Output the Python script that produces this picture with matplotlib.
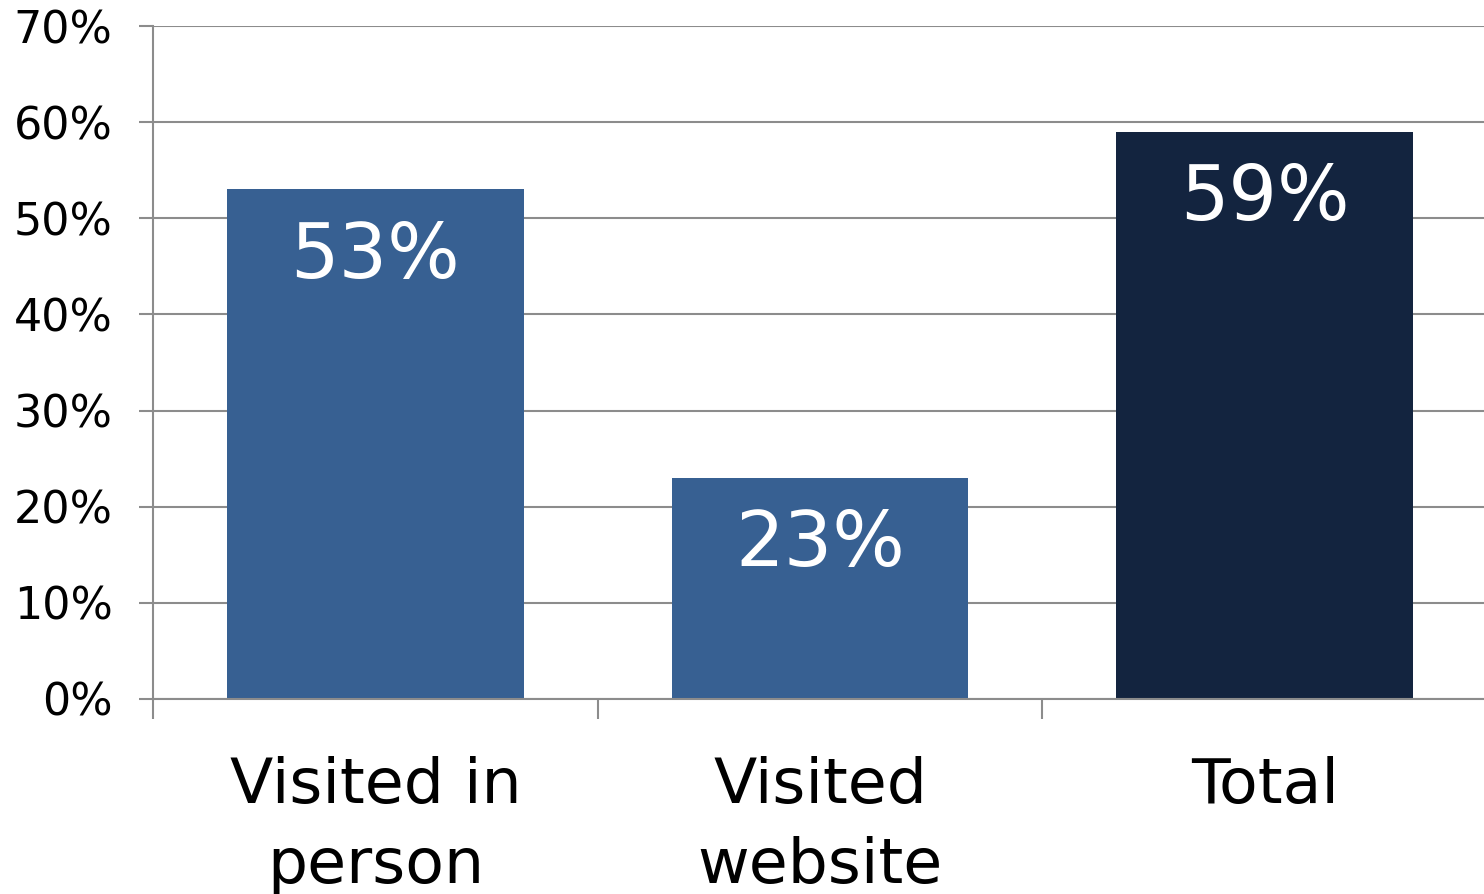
import matplotlib
matplotlib.use("Agg")
import matplotlib.pyplot as plt
from matplotlib.ticker import FixedLocator

# Дані
categories = ["Visited in\nperson", "Visited\nwebsite", "Total"]
values = [53, 23, 59]
value_labels = ["53%", "23%", "59%"]
y_ticks = [0, 10, 20, 30, 40, 50, 60, 70]
y_tick_labels = ["0%", "10%", "20%", "30%", "40%", "50%", "60%", "70%"]

bar_colors = ["#376092", "#376092", "#13243f"]
grid_color = "#8c8c8c"

plt.rcParams["font.family"] = ["DejaVu Sans"]

fig = plt.figure(figsize=(14.84, 8.94), dpi=100)
ax = fig.add_axes([153 / 1484, 195 / 894, 1334 / 1484, 673 / 894])

x = list(range(len(categories)))
bars = ax.bar(x, values, width=0.667, color=bar_colors, zorder=2)

for xi, v, lab in zip(x, values, value_labels):
    ax.annotate(lab, (xi, v), xytext=(0, -63.5), textcoords="offset points",
                ha="center", va="baseline", color="white", fontsize=55, zorder=3)

ax.set_xlim(-0.5, 2.5)
ax.set_ylim(0, 70)

ax.set_yticks(y_ticks)
ax.set_yticklabels(y_tick_labels)
ax.yaxis.grid(True, color=grid_color, linewidth=1.5, zorder=1)
ax.tick_params(axis="y", length=10, width=1.5, color=grid_color, pad=19,
               labelsize=32)

ax.set_xticks(x)
ax.set_xticklabels(categories, linespacing=1.42)
ax.xaxis.set_minor_locator(FixedLocator([-0.5, 0.5, 1.5, 2.5]))
ax.tick_params(axis="x", which="major", length=0, pad=41, labelsize=45.5)
ax.tick_params(axis="x", which="minor", length=14.5, width=1.5, color=grid_color)

for side in ["top", "right"]:
    ax.spines[side].set_visible(False)
ax.spines["left"].set_color(grid_color)
ax.spines["left"].set_linewidth(1.5)
ax.spines["bottom"].set_color(grid_color)
ax.spines["bottom"].set_linewidth(1.5)

fig.savefig("out.png", dpi=100)
